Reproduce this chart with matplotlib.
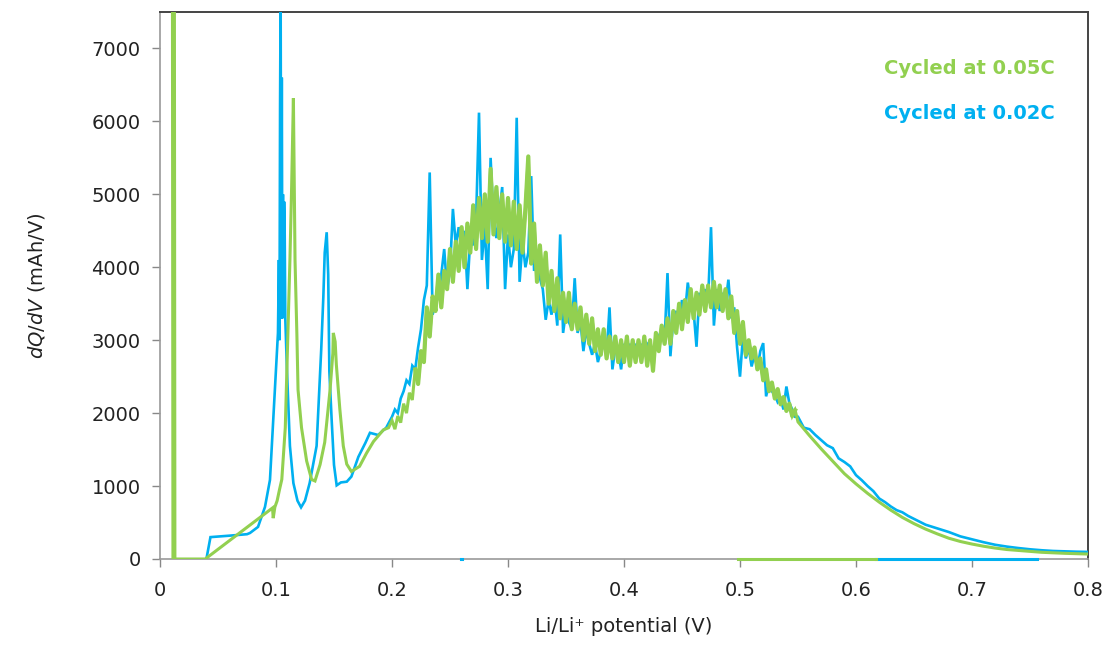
import matplotlib
matplotlib.use("Agg")
import matplotlib.pyplot as plt
import numpy as np

# ---------------- data ----------------
# Cycled at 0.05C (green)
g_early_x = [0.0115, 0.012, 0.039, 0.0970, 0.0976, 0.099, 0.101, 0.103, 0.105, 0.108, 0.1106,
             0.112, 0.1135, 0.115, 0.1164, 0.118, 0.119, 0.122, 0.1264, 0.1307, 0.1336, 0.138,
             0.142, 0.1466, 0.149, 0.1494, 0.151, 0.152, 0.155, 0.158, 0.161, 0.165, 0.172,
             0.178, 0.184, 0.1925, 0.197]
g_early_y = [9000, 0, 0, 700, 560, 710, 800, 950, 1090, 1800, 3280,
             4100, 5120, 6320, 4100, 3080, 2320, 1800, 1345, 1090, 1070, 1295,
             1600, 2320, 2820, 3100, 2980, 2670, 2060, 1550, 1300, 1200, 1270,
             1450, 1610, 1770, 1800]
# dense region 0.200 .. 0.5475, step 0.0025
g_mid_start, g_mid_step = 0.200, 0.0025
g_mid_y = [1900, 1780, 1960, 1870, 2130, 2000, 2280, 2180, 2600, 2400, 2850, 2700,
           3450, 3050, 3600, 3400, 3900, 3450, 3950, 3700, 4250, 3800, 4350, 3950,
           4550, 4000, 4600, 4200, 4850, 4250, 4950, 4400, 5000, 4350, 5350, 4450,
           5100, 4400, 5000, 4350, 4950, 4300, 4900, 4250, 4850, 4200, 4800, 5520,
           4050, 4600, 3800, 4300, 3750, 4200, 3500, 3950, 3400, 3850, 3300, 3650,
           3250, 3650, 3150, 3500, 3150, 3450, 3000, 3350, 2950, 3300, 2850, 3150,
           2800, 3150, 2750, 3050, 2750, 3050, 2700, 3000, 2700, 3050, 2650, 3000,
           2700, 3000, 2700, 3050, 2650, 3000, 2580, 3100, 2850, 3200, 2950, 3300,
           2950, 3400, 3100, 3500, 3150, 3550, 3250, 3700, 3300, 3650, 3350, 3750,
           3400, 3750, 3450, 3800, 3450, 3750, 3400, 3700, 3300, 3600, 3100, 3400,
           2950, 3250, 2800, 3000, 2750, 2900, 2600, 2750, 2450, 2600, 2300, 2420,
           2200, 2330, 2120, 2220, 2030, 2130, 1960, 2040]
g_tail_x = [0.55, 0.56, 0.57, 0.58, 0.59, 0.60, 0.61, 0.62, 0.63, 0.64, 0.65, 0.66, 0.67,
            0.68, 0.69, 0.70, 0.71, 0.72, 0.73, 0.74, 0.75, 0.76, 0.77, 0.78, 0.79, 0.80]
g_tail_y = [1880, 1690, 1510, 1340, 1170, 1030, 900, 780, 670, 570, 485, 410, 345,
            285, 240, 205, 175, 150, 130, 117, 103, 92, 85, 78, 73, 68]
g_zero_x = [0.498, 0.617]

# Cycled at 0.02C (blue)
b_early_x = [0.040, 0.0435, 0.06, 0.075, 0.0776, 0.0845, 0.0905, 0.0948, 0.097, 0.099,
             0.1017, 0.1025, 0.103, 0.1035, 0.104, 0.1045, 0.105, 0.1055, 0.106, 0.1065,
             0.107, 0.1075, 0.108, 0.1095, 0.112, 0.115, 0.1185, 0.1216, 0.125, 0.129,
             0.135, 0.139, 0.1408, 0.142, 0.1437, 0.145, 0.146, 0.148, 0.150, 0.1523,
             0.156, 0.161, 0.165, 0.171, 0.177, 0.181, 0.188, 0.195]
b_early_y = [0, 300, 320, 340, 357, 440, 714, 1084, 1730, 2320,
             3100, 4100, 3000, 6200, 7800, 3300, 6600, 3300, 5000, 3500,
             4900, 4450, 3300, 2570, 1550, 1040, 800, 708, 800, 1040,
             1550, 2880, 3590, 4200, 4480, 3900, 2570, 1900, 1290, 1010,
             1050, 1060, 1130, 1400, 1590, 1730, 1700, 1800]
b_mid_start, b_mid_step = 0.200, 0.0025
b_mid_y = [1950, 2050, 2000, 2200, 2300, 2450, 2400, 2650, 2600, 2900, 3150, 3550,
           3750, 5300, 3350, 3500, 3600, 3900, 4250, 3700, 3950, 4800, 4300, 4550,
           4250, 4500, 3700, 4400, 4300, 4650, 6120, 4100, 4550, 3700, 5500, 4650,
           4400, 4750, 5100, 3700, 4450, 4000, 4250, 6050, 3800, 4350, 4000, 4200,
           5250, 3950, 4150, 3850, 3700, 3280, 3550, 3350, 3600, 3200, 4450, 3100,
           3400, 3250, 3150, 3850, 3100, 3250, 2850, 3150, 2950, 2800, 2950, 2700,
           2850, 2950, 2800, 3450, 2600, 2900, 2850, 2600, 2950, 2850, 2950, 2800,
           2950, 2850, 2950, 2800, 2950, 2900, 2650, 3000, 3050, 3150, 3000, 3920,
           2780, 3300, 3400, 3250, 3550, 3350, 3790, 3500, 3400, 2910, 3650, 3500,
           3700, 3550, 4550, 3200, 3700, 3400, 3650, 3500, 3830, 3300, 3450, 2900,
           2500, 3050, 2750, 2900, 2640, 2800, 2600, 2850, 2960, 2230, 2400, 2300,
           2250, 2150, 2200, 2050, 2365, 2140, 2050, 1950]
b_tail_x = [0.55, 0.555, 0.56, 0.565, 0.57, 0.575, 0.58, 0.585, 0.59, 0.595, 0.60, 0.605,
            0.61, 0.615, 0.62, 0.625, 0.63, 0.635, 0.64, 0.645, 0.65, 0.66, 0.67, 0.68,
            0.69, 0.70, 0.71, 0.72, 0.73, 0.74, 0.75, 0.76, 0.77, 0.78, 0.79, 0.80]
b_tail_y = [1950, 1800, 1780, 1700, 1630, 1560, 1520, 1380, 1330, 1270, 1150, 1080,
            1000, 930, 830, 780, 720, 670, 640, 590, 550, 470, 420, 370,
            310, 270, 230, 195, 170, 150, 133, 120, 110, 105, 100, 97]
b_zero_x = [0.617, 0.756]
b_blip_x = [0.2595, 0.2605]

x_ticks = [0, 0.1, 0.2, 0.3, 0.4, 0.5, 0.6, 0.7, 0.8]
x_tick_labels = ["0", "0.1", "0.2", "0.3", "0.4", "0.5", "0.6", "0.7", "0.8"]
y_ticks = [0, 1000, 2000, 3000, 4000, 5000, 6000, 7000]

GREEN = "#92d050"
BLUE = "#00b0f0"

# ---------------- assemble ----------------
g_mid_x = [g_mid_start + i * g_mid_step for i in range(len(g_mid_y))]
b_mid_x = [b_mid_start + i * b_mid_step for i in range(len(b_mid_y))]
gx = g_early_x + g_mid_x + g_tail_x
gy = g_early_y + g_mid_y + g_tail_y
bx = b_early_x + b_mid_x + b_tail_x
by = b_early_y + b_mid_y + b_tail_y

plt.rcParams['font.family'] = ['DejaVu Sans']
fig = plt.figure(figsize=(11.07, 6.61), dpi=100)
ax = fig.add_axes([160 / 1107, 1 - 559 / 661, 928 / 1107, 547 / 661])

ax.plot(bx, by, color=BLUE, lw=1.9, solid_joinstyle='miter', zorder=3)
ax.plot(b_zero_x, [0, 0], color=BLUE, lw=2.2, zorder=3, clip_on=False)
ax.plot(b_blip_x, [0, 0], color=BLUE, lw=2.2, zorder=3, clip_on=False)
ax.plot(gx, gy, color=GREEN, lw=2.2, solid_joinstyle='miter', zorder=4)
# the densely oscillating part of the green trace renders as a thick band
ax.plot(g_mid_x[8:], g_mid_y[8:], color=GREEN, lw=3.0, zorder=4)
ax.plot(gx[:2], gy[:2], color=GREEN, lw=3.6, zorder=4)
ax.plot(g_zero_x, [0, 0], color=GREEN, lw=2.2, zorder=4, clip_on=False)

ax.set_xlim(0, 0.8)
ax.set_ylim(0, 7500)
ax.set_xticks(x_ticks)
ax.set_xticklabels(x_tick_labels)
ax.set_yticks(y_ticks)
ax.tick_params(axis='both', direction='out', length=6, width=1, color='#888888',
               labelsize=14, labelcolor='#222222')
ax.tick_params(axis='x', pad=10)
ax.tick_params(axis='y', pad=8)
for s in ['left', 'bottom']:
    ax.spines[s].set_color('#999999')
    ax.spines[s].set_linewidth(1.2)
for s in ['top', 'right']:
    ax.spines[s].set_color('#444444')
    ax.spines[s].set_linewidth(1.4)

ax.set_xlabel("Li/Li\u207a potential (V)", fontsize=14, color='#222222', labelpad=12)
ax.set_ylabel("$dQ/dV$ (mAh/V)", fontsize=14, color='#222222', labelpad=32)

ax.text(0.964, 0.897, "Cycled at 0.05C", transform=ax.transAxes, ha='right', va='center',
        fontsize=14, fontweight='bold', color=GREEN)
ax.text(0.964, 0.815, "Cycled at 0.02C", transform=ax.transAxes, ha='right', va='center',
        fontsize=14, fontweight='bold', color=BLUE)

fig.savefig("out.png", dpi=100)
